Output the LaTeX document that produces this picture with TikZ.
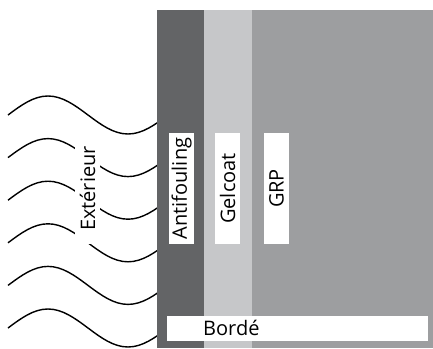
\documentclass[tikz,border=0pt]{standalone}
\usepackage{fontspec}
\setmainfont{Open Sans}
\definecolor{antif}{RGB}{99,100,102}
\definecolor{gelc}{RGB}{198,199,201}
\definecolor{grp}{RGB}{157,158,160}
\begin{document}
\begin{tikzpicture}[x=1pt,y=-1pt,
  wave/.style={line width=1.4pt},
  band/.style={draw=none,inner sep=0pt,anchor=north west},
  lbl/.style={fill=white,draw=none,inner sep=0pt,font=\fontsize{20}{22}\selectfont},
  rlbl/.style={lbl,rotate=90,minimum width=111pt,minimum height=25pt}]
\useasboundingbox (0,0) rectangle (433,348);
% waves
\foreach \m in {115,157.6,200.2,242.8,285.4,328}{
  \draw[wave] (8,\m) sin (48,\m-19) cos (88,\m) sin (128,\m+19) cos (168,\m);
}
% bands
\node[band,fill=antif,minimum width=47pt,minimum height=338pt] (anti) at (157,10) {};
\node[band,fill=gelc,minimum width=48pt,minimum height=338pt] (gel) at (204,10) {};
\node[band,fill=grp,minimum width=181pt,minimum height=338pt] (glass) at (252,10) {};
% labels
\node[rlbl] (ext) at (87.5,188.5) {Extérieur};
\node[rlbl] (lanti) at (181.5,188.5) {Antifouling};
\node[rlbl] (lgel) at (227.5,188.5) {Gelcoat};
\node[rlbl] (lgrp) at (276.5,188.5) {GRP};
\node[fill=white,inner sep=0pt,minimum width=260.6pt,minimum height=25pt,anchor=north west] (borde) at (166.7,315.7) {};
\node[anchor=west,inner sep=0pt,font=\fontsize{20}{22}\selectfont] (bordetxt) at (203,328.2) {Bordé};
\end{tikzpicture}
\end{document}
